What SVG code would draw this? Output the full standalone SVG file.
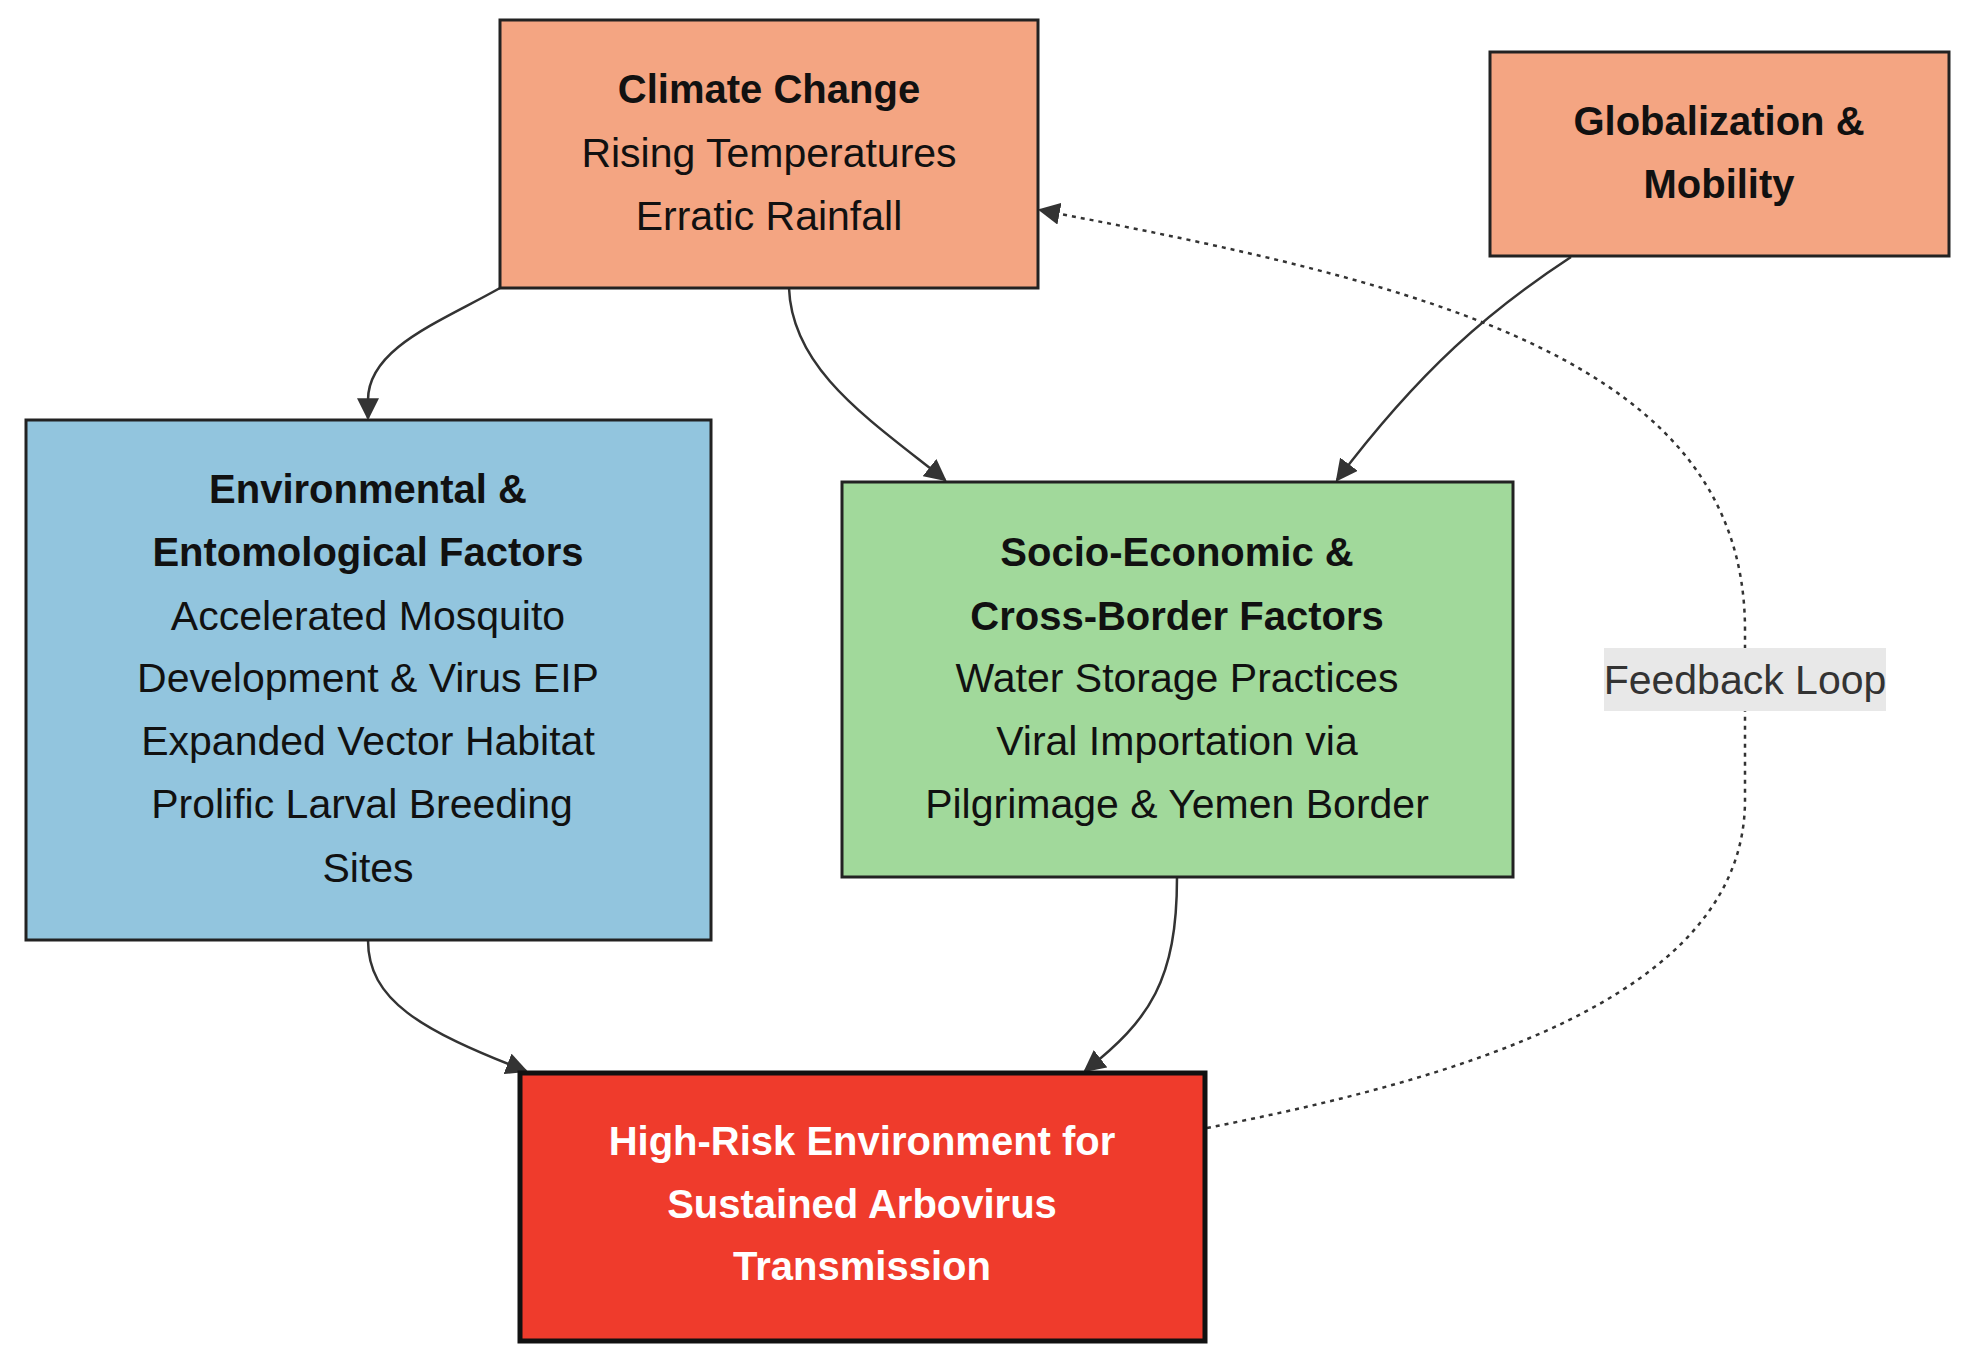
<svg xmlns="http://www.w3.org/2000/svg" width="1970" height="1365" viewBox="0 0 1970 1365">
<style>
.box{stroke:#222;stroke-width:3}
.t{font-family:"Liberation Sans",Arial,sans-serif;font-size:41px;text-anchor:middle;fill:#111}
.b{font-weight:bold;font-size:40px}
.w{fill:#fff}
.edge{fill:none;stroke:#333;stroke-width:2.5}
.dot{stroke-dasharray:4 5}
</style>
<defs>
<marker id="arr" viewBox="0 0 10 10" refX="9" refY="5" markerWidth="22" markerHeight="22" markerUnits="userSpaceOnUse" orient="auto">
<path d="M0,0 L10,5 L0,10 z" fill="#333"/>
</marker>
</defs>
<rect width="1970" height="1365" fill="#fff"/>
<g id="connectors">
<path class="edge" d="M500,288 C440,322 368,348 368,400 L368,418" marker-end="url(#arr)"/>
<path class="edge" d="M789,288 C792,370 870,420 945,480" marker-end="url(#arr)"/>
<path class="edge" d="M1571,257 C1490,310 1420,370 1337,480" marker-end="url(#arr)"/>
<path class="edge" d="M368,940 C368,1000 420,1030 526,1071" marker-end="url(#arr)"/>
<path class="edge" d="M1177,877 C1177,980 1150,1020 1085,1071" marker-end="url(#arr)"/>
<path class="edge dot" d="M1207,1128 C1450,1080 1745,1000 1745,800 L1745,630 C1745,360 1430,285 1040,210" marker-end="url(#arr)"/>
</g>
<g id="climate">
<rect class="box" x="500" y="20" width="538" height="268" fill="#F4A582"/>
<text class="t b" x="769" y="103">Climate Change</text>
<text class="t" x="769" y="167">Rising Temperatures</text>
<text class="t" x="769" y="230">Erratic Rainfall</text>
</g>
<g id="globalization">
<rect class="box" x="1490" y="52" width="459" height="204" fill="#F4A582"/>
<text class="t b" x="1719" y="135">Globalization &amp;</text>
<text class="t b" x="1719" y="198">Mobility</text>
</g>
<g id="environmental">
<rect class="box" x="26" y="420" width="685" height="520" fill="#92C5DE"/>
<text class="t b" x="368" y="503">Environmental &amp;</text>
<text class="t b" x="368" y="566">Entomological Factors</text>
<text class="t" x="368" y="630">Accelerated Mosquito</text>
<text class="t" x="368" y="692">Development &amp; Virus EIP</text>
<text class="t" x="368" y="755">Expanded Vector Habitat</text>
<text class="t" x="362" y="818">Prolific Larval Breeding</text>
<text class="t" x="368" y="882">Sites</text>
</g>
<g id="socio">
<rect class="box" x="842" y="482" width="671" height="395" fill="#A1D99B"/>
<text class="t b" x="1177" y="566">Socio-Economic &amp;</text>
<text class="t b" x="1177" y="630">Cross-Border Factors</text>
<text class="t" x="1177" y="692">Water Storage Practices</text>
<text class="t" x="1177" y="755">Viral Importation via</text>
<text class="t" x="1177" y="818">Pilgrimage &amp; Yemen Border</text>
</g>
<g id="highrisk">
<rect x="520" y="1073" width="685" height="268" fill="#EF3B2C" stroke="#111" stroke-width="5"/>
<text class="t b w" x="862" y="1155">High-Risk Environment for</text>
<text class="t b w" x="862" y="1218">Sustained Arbovirus</text>
<text class="t b w" x="862" y="1280">Transmission</text>
</g>
<g id="feedback-label">
<rect x="1604" y="648" width="282" height="63" fill="#e8e8e8"/>
<text class="t" x="1745" y="694" style="fill:#333">Feedback Loop</text>
</g>
</svg>
